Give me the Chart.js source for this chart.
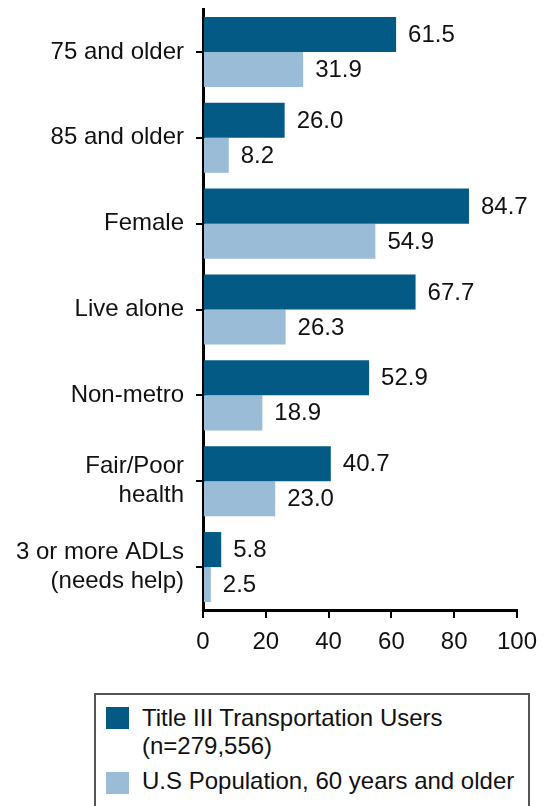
<!DOCTYPE html>
<html>
<head>
<meta charset="utf-8">
<script src="https://cdn.jsdelivr.net/npm/chart.js@4/dist/chart.umd.min.js"></script>
<style>
  body { margin: 0; background: #fff; overflow: hidden; }
  #wrap { position: relative; width: 550px; height: 806px; font-family: "Liberation Sans", Arial, sans-serif; }
  #chartBox { position: absolute; left: 0; top: 0; width: 550px; height: 660px; }
  #legend {
    position: absolute; left: 94px; top: 693px; width: 432px; height: 200px;
    border: 2px solid #555; border-bottom: none; color: #111; font-size: 24px;
  }
  .sw { position: absolute; left: 10px; width: 23px; height: 22px; }
  .txt { position: absolute; left: 46px; white-space: nowrap; line-height: 28px; }
</style>
</head>
<body>
<div id="wrap">
  <div id="chartBox"><canvas id="myBarChart"></canvas></div>
  <div id="legend">
    <div class="sw" style="top:12px;background:#035a84"></div>
    <div class="txt" style="top:9px">Title III Transportation Users<br>(n=279,556)</div>
    <div class="sw" style="top:77px;background:#9abcd6"></div>
    <div class="txt" style="top:72px">U.S Population, 60 years and older</div>
  </div>
</div>
<script>
const categories = [
  "75 and older",
  "85 and older",
  "Female",
  "Live alone",
  "Non-metro",
  ["Fair/Poor", "health"],
  ["3 or more ADLs", "(needs help)"]
];
const titleUsers = [61.5, 26.0, 84.7, 67.7, 52.9, 40.7, 5.8];
const usPopulation = [31.9, 8.2, 54.9, 26.3, 18.9, 23.0, 2.5];
const xTicks = [0, 20, 40, 60, 80, 100];

// draw the number just right of each bar
const valueLabels = {
  id: "valueLabels",
  afterDatasetsDraw(chart) {
    const ctx = chart.ctx;
    ctx.save();
    ctx.font = "24px 'Liberation Sans', Arial, sans-serif";
    ctx.fillStyle = "#111";
    ctx.textBaseline = "middle";
    ctx.textAlign = "left";
    chart.data.datasets.forEach((ds, i) => {
      chart.getDatasetMeta(i).data.forEach((bar, j) => {
        ctx.fillText(ds.data[j].toFixed(1), bar.x + 12, bar.y + 1);
      });
    });
    ctx.restore();
  }
};

// no extra room for label overhang, the chart area is set by hand
function noPad(axis) {
  axis.paddingTop = 0;
  axis.paddingBottom = 0;
  axis.paddingLeft = 0;
  axis.paddingRight = 0;
}

Chart.defaults.font.family = "'Liberation Sans', Arial, sans-serif";
Chart.defaults.font.size = 24;
Chart.defaults.color = "#111";

new Chart(document.getElementById("myBarChart").getContext("2d"), {
  type: "bar",
  data: {
    labels: categories,
    datasets: [
      { label: "Title III Transportation Users (n=279,556)", data: titleUsers, backgroundColor: "#035a84" },
      { label: "U.S Population, 60 years and older", data: usPopulation, backgroundColor: "#9abcd6" }
    ]
  },
  options: {
    indexAxis: "y",
    responsive: true,
    maintainAspectRatio: false,
    animation: false,
    categoryPercentage: 0.816,
    barPercentage: 1.0,
    layout: { padding: { top: 9, right: 33, left: 0, bottom: 0 } },
    scales: {
      x: {
        min: 0,
        max: 100,
        afterBuildTicks(axis) { axis.ticks = xTicks.map(v => ({ value: v })); },
        afterFit(axis) { axis.height = 50; noPad(axis); },
        border: { color: "#000", width: 3 },
        grid: { drawOnChartArea: false, drawTicks: true, tickLength: 8, color: "#000", lineWidth: 2 },
        ticks: { padding: 10, font: { size: 24, lineHeight: 1.2 }, color: "#111" }
      },
      y: {
        afterFit(axis) { axis.width = 203; noPad(axis); },
        border: { color: "#000", width: 3 },
        grid: { offset: false, drawOnChartArea: false, drawTicks: true, tickLength: 7, color: "#000", lineWidth: 2 },
        ticks: { padding: 12, font: { size: 24, lineHeight: 1.2 }, color: "#111" }
      }
    },
    plugins: {
      legend: { display: false },
      tooltip: { enabled: false }
    }
  },
  plugins: [valueLabels]
});
</script>
</body>
</html>
